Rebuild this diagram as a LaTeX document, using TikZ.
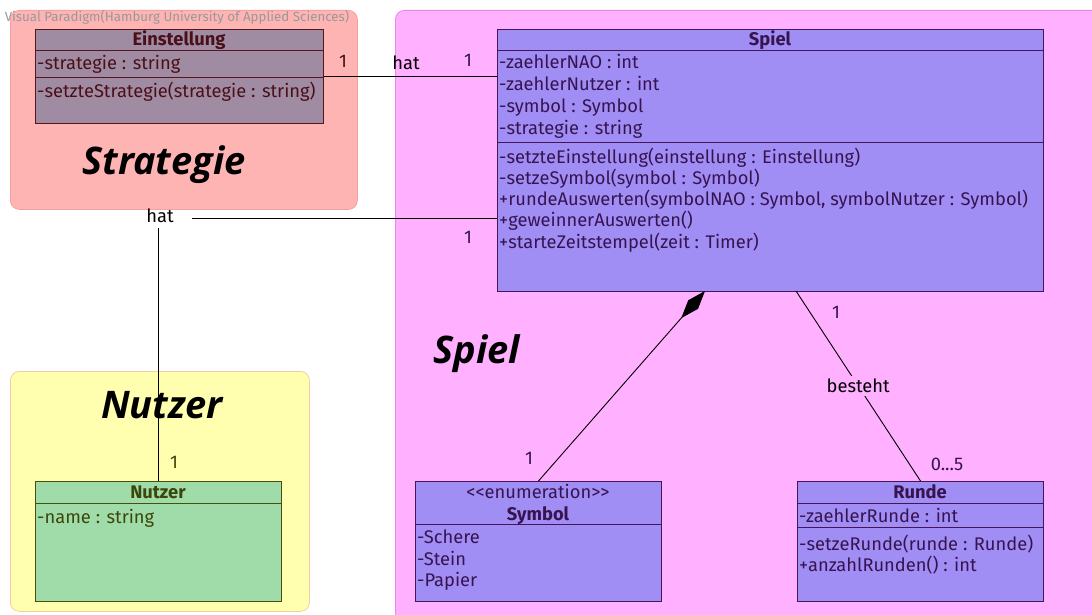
\documentclass[tikz,border=0pt]{standalone}
\usepackage{fontspec}
\setmainfont{Fira Sans}
\newfontfamily\titlefont{Open Sans}
\usetikzlibrary{arrows.meta}
\definecolor{pkgred}{RGB}{255,180,180}
\definecolor{pkgredb}{RGB}{245,160,160}
\definecolor{pkgpink}{RGB}{255,176,255}
\definecolor{pkgpinkb}{RGB}{230,140,230}
\definecolor{pkgyel}{RGB}{255,255,175}
\definecolor{pkgyelb}{RGB}{245,205,160}
\definecolor{clsgray}{RGB}{160,140,162}
\definecolor{clsgrayb}{RGB}{90,20,30}
\definecolor{clspur}{RGB}{160,142,245}
\definecolor{clspurb}{RGB}{70,20,90}
\definecolor{clsgrn}{RGB}{160,220,170}
\definecolor{clsgrnb}{RGB}{70,80,10}
\definecolor{txtmar}{RGB}{75,15,25}
\definecolor{txtpur}{RGB}{55,20,80}
\definecolor{txtgrn}{RGB}{60,70,10}
\tikzset{
  pkg/.style={rounded corners=9pt, line width=0.8pt, anchor=north west, inner sep=0pt},
  cls/.style={line width=1pt, anchor=north west, inner sep=0pt},
  ln/.style={anchor=base west, inner sep=0pt, font=\fontsize{18.3}{20}\selectfont},
  hd/.style={anchor=base, inner sep=0pt, font=\fontsize{18.3}{20}\selectfont\bfseries},
  ttl/.style={anchor=base, inner sep=0pt, font=\titlefont\fontsize{38}{42}\selectfont\bfseries\itshape},
  mult/.style={anchor=base, inner sep=0pt, font=\fontsize{18.3}{20}\selectfont},
  conn/.style={line width=0.9pt, black}
}
\begin{document}
\begin{tikzpicture}[x=1pt,y=-1pt]
\path[use as bounding box, fill=white] (0,0) rectangle (1092,615);
% packages
\node[pkg, fill=pkgred, draw=pkgredb, minimum width=347pt, minimum height=199pt] (pstrat) at (10,10) {};
\node[pkg, fill=pkgpink, draw=pkgpinkb, minimum width=720pt, minimum height=620pt] (pspiel) at (395,10) {};
\node[pkg, fill=pkgyel, draw=pkgyelb, minimum width=299pt, minimum height=240pt] (pnutzer) at (10,371) {};
\node[anchor=base, inner sep=0pt, text=black!40, font=\fontsize{13.3}{15}\selectfont] (vp) at (177,22) {Visual Paradigm(Hamburg University of Applied Sciences)};
\node[ttl] (tstrat) at (164,175) {Strategie};
\node[ttl] (tnutzer) at (162,418) {Nutzer};
\node[ttl] (tspiel) at (477,363) {Spiel};
% Einstellung
\node[cls, fill=clsgray, draw=clsgrayb, minimum width=288pt, minimum height=94pt] (einst) at (35,29) {};
\draw[clsgrayb, line width=1pt] (35,51) -- (323,51) (35,78) -- (323,78);
\node[hd, text=txtmar] (einstn) at (179,46) {Einstellung};
\node[ln, text=txtmar] (e1) at (37,70) {-strategie : string};
\node[ln, text=txtmar] (e2) at (37,98) {-setzteStrategie(strategie : string)};
% Spiel
\node[cls, fill=clspur, draw=clspurb, minimum width=546pt, minimum height=262pt] (spiel) at (497,29) {};
\draw[clspurb, line width=1pt] (497,51) -- (1043,51) (497,143) -- (1043,143);
\node[hd, text=txtpur] (spieln) at (770,46) {Spiel};
\node[ln, text=txtpur] (s1) at (499,69) {-zaehlerNAO : int};
\node[ln, text=txtpur] (s2) at (499,91) {-zaehlerNutzer : int};
\node[ln, text=txtpur] (s3) at (499,113) {-symbol : Symbol};
\node[ln, text=txtpur] (s4) at (499,135) {-strategie : string};
\node[ln, text=txtpur] (s5) at (499,163) {-setzteEinstellung(einstellung : Einstellung)};
\node[ln, text=txtpur] (s6) at (499,184) {-setzeSymbol(symbol : Symbol)};
\node[ln, text=txtpur] (s7) at (499,205) {+rundeAuswerten(symbolNAO : Symbol, symbolNutzer : Symbol)};
\node[ln, text=txtpur] (s8) at (499,226) {+geweinnerAuswerten()};
\node[ln, text=txtpur] (s9) at (499,248) {+starteZeitstempel(zeit : Timer)};
% Nutzer
\node[cls, fill=clsgrn, draw=clsgrnb, minimum width=246pt, minimum height=120pt] (nutzer) at (35,481) {};
\draw[clsgrnb, line width=1pt] (35,503) -- (281,503);
\node[hd, text=txtgrn] (nutzern) at (158,498) {Nutzer};
\node[ln, text=txtgrn] (n1) at (37,523) {-name : string};
% Symbol
\node[cls, fill=clspur, draw=clspurb, minimum width=246pt, minimum height=120pt] (symbol) at (415,481) {};
\draw[clspurb, line width=1pt] (415,524) -- (661,524);
\node[anchor=base, inner sep=0pt, text=txtpur, font=\fontsize{18.3}{20}\selectfont] (symst) at (538,498) {<\kern0pt<enumeration>\kern0pt>};
\node[hd, text=txtpur] (symn) at (538,520) {Symbol};
\node[ln, text=txtpur] (y1) at (417,543) {-Schere};
\node[ln, text=txtpur] (y2) at (417,565) {-Stein};
\node[ln, text=txtpur] (y3) at (417,586) {-Papier};
% Runde
\node[cls, fill=clspur, draw=clspurb, minimum width=246pt, minimum height=120pt] (runde) at (797,481) {};
\draw[clspurb, line width=1pt] (797,503) -- (1043,503) (797,527) -- (1043,527);
\node[hd, text=txtpur] (runden) at (920,498) {Runde};
\node[ln, text=txtpur] (r1) at (799,522) {-zaehlerRunde : int};
\node[ln, text=txtpur] (r2) at (799,550) {-setzeRunde(runde : Runde)};
\node[ln, text=txtpur] (r3) at (799,571) {+anzahlRunden() : int};
% connectors
\draw[conn] (einst.east) -- (einst.east -| spiel.west);
\node[mult, text=txtmar] (m1) at (343,68) {1};
\node[mult, text=black] (hat1) at (406,70) {hat};
\node[mult, text=txtpur] (m2) at (468,67) {1};
\node[mult, text=black] (hat2) at (160,222) {hat};
\draw[conn] (192,218) coordinate (h2e) -- (h2e -| spiel.west);
\draw[conn] (nutzer.north) -- (nutzer.north |- 0,228);
\node[mult, text=txtpur] (m3) at (468,243) {1};
\node[mult, text=txtgrn] (m4) at (174,468) {1};
\coordinate (spcomp) at (705,291);
\draw[conn, -{Diamond[length=36pt,width=13pt]}] (symbol.north) -- (spcomp);
\node[mult, text=txtpur] (m5) at (529,464) {1};
\coordinate (spass) at (796,291);
\draw[conn] (spass) -- node[fill=pkgpink, inner sep=3pt, font=\fontsize{18.3}{20}\selectfont, text=black] (besteht) {besteht} (runde.north);
\node[mult, text=txtpur] (m6) at (836,318) {1};
\node[mult, text=txtpur] (m7) at (947,470) {0...5};
\end{tikzpicture}
\end{document}
